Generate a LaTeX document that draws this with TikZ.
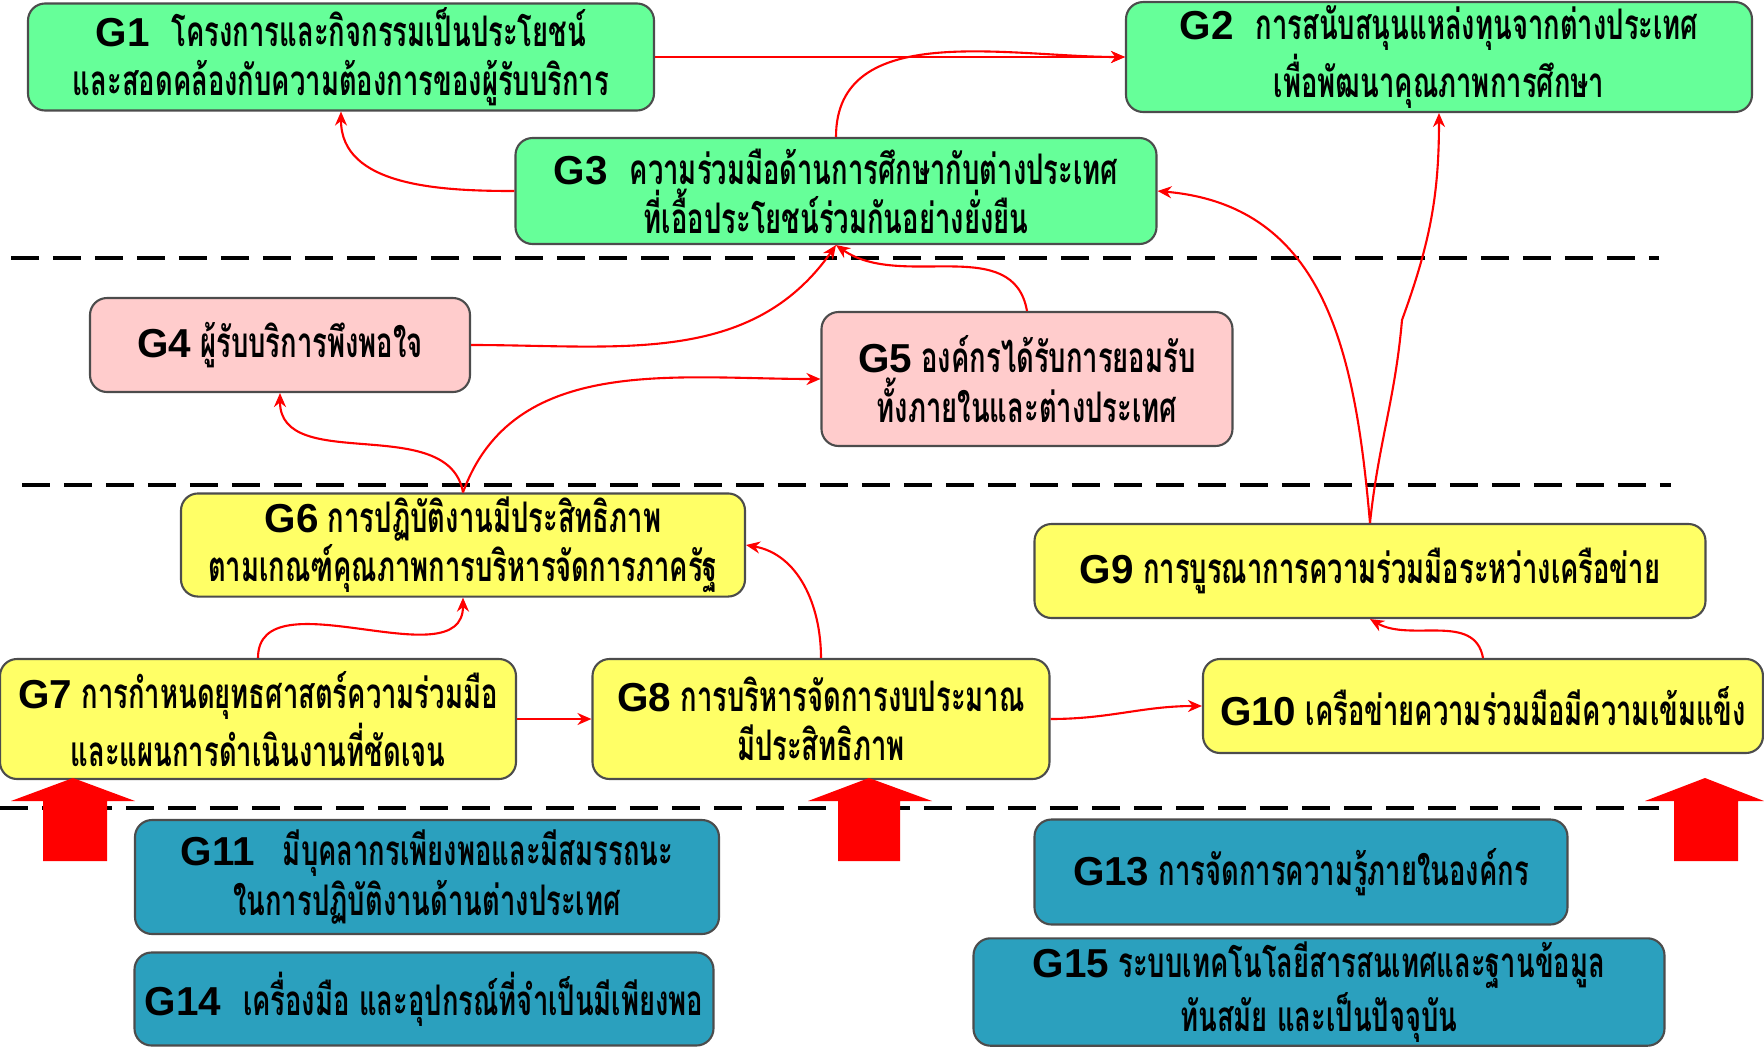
\documentclass[tikz,border=0pt]{standalone}
\usepackage{fontspec}
\usetikzlibrary{arrows.meta}
\newfontfamily\thaifont[Script=Thai,FakeStretch=0.65]{Loma}
\newfontfamily\labfont{Liberation Sans}
\newcommand\gname[1]{{\labfont\bfseries\fontsize{11.5}{12}\selectfont #1}}

\definecolor{goalgreen}{RGB}{102,255,153}
\definecolor{goalpink}{RGB}{255,204,204}
\definecolor{goalyellow}{RGB}{255,255,102}
\definecolor{goalteal}{RGB}{43,160,190}

\tikzset{
  goal/.style={draw=black!70, line width=0.6pt, rounded corners=1.7mm, align=center,
    inner sep=1pt, font=\thaifont\bfseries\fontsize{12}{14}\selectfont},
  link/.style={red, line width=0.6pt, -{Stealth[length=1.4mm,width=1.2mm]}},
  sepline/.style={black, line width=1.3pt, dash pattern=on 2.8mm off 1.4mm},
  uparrow/.style={fill=red}
}

\begin{document}
\begin{tikzpicture}[x=0.1mm, y=-0.1mm]
    \useasboundingbox (0,0) rectangle (1764,1049);

    % level separators
    \draw[sepline] (11,258) -- (1659,258);
    \draw[sepline] (22,485) -- (1671,485);
    \draw[sepline] (0,808) -- (1659,808);

    % goals
    \node[goal, fill=goalgreen, minimum width=62.6mm, minimum height=10.7mm] (g1) at (341,57)
        {\gname{G1}\hspace{2.2mm}โครงการและกิจกรรมเป็นประโยชน์\\และสอดคล้องกับความต้องการของผู้รับบริการ};
    \node[goal, fill=goalgreen, minimum width=62.6mm, minimum height=10.7mm] (g2) at (1439,57)
        {\gname{G2}\hspace{2.2mm}การสนับสนุนแหล่งทุนจากต่างประเทศ\\เพื่อพัฒนาคุณภาพการศึกษา};
    \node[goal, fill=goalgreen, minimum width=64.1mm, minimum height=10.6mm] (g3) at (836,191)
        {\gname{G3}\hspace{2.2mm}ความร่วมมือด้านการศึกษากับต่างประเทศ\\ที่เอื้อประโยชน์ร่วมกันอย่างยั่งยืน};
    \node[goal, fill=goalpink, minimum width=38mm, minimum height=9.4mm] (g4) at (280,345)
        {\gname{G4} ผู้รับบริการพึงพอใจ};
    \node[goal, fill=goalpink, minimum width=41.1mm, minimum height=13.4mm] (g5) at (1027,379)
        {\gname{G5} องค์กรได้รับการยอมรับ\\ทั้งภายในและต่างประเทศ};
    \node[goal, fill=goalyellow, minimum width=56.4mm, minimum height=9.4mm] (g6) at (463,545)
        {\gname{G6} การปฏิบัติงานมีประสิทธิภาพ\\ตามเกณฑ์คุณภาพการบริหารจัดการภาครัฐ};
    \node[goal, fill=goalyellow, minimum width=67.1mm, minimum height=9.4mm] (g9) at (1370,571)
        {\gname{G9} การบูรณาการความร่วมมือระหว่างเครือข่าย};
    \node[goal, fill=goalyellow, minimum width=51.6mm, minimum height=12mm] (g7) at (258,719)
        {\gname{G7} การกำหนดยุทธศาสตร์ความร่วมมือ\\และแผนการดำเนินงานที่ชัดเจน};
    \node[goal, fill=goalyellow, minimum width=45.7mm, minimum height=12mm] (g8) at (821,719)
        {\gname{G8} การบริหารจัดการงบประมาณ\\มีประสิทธิภาพ};
    \node[goal, fill=goalyellow, minimum width=56mm, minimum height=9.4mm] (g10) at (1483,706)
        {\gname{G10} เครือข่ายความร่วมมือมีความเข้มแข็ง};
    \node[goal, fill=goalteal, minimum width=58.4mm, minimum height=11.4mm] (g11) at (427,877)
        {\gname{G11}\hspace{2.8mm}มีบุคลากรเพียงพอและมีสมรรถนะ\\ในการปฏิบัติงานด้านต่างประเทศ};
    \node[goal, fill=goalteal, minimum width=53.3mm, minimum height=10.5mm] (g13) at (1301,872)
        {\gname{G13} การจัดการความรู้ภายในองค์กร};
    \node[goal, fill=goalteal, minimum width=57.9mm, minimum height=9.3mm] (g14) at (424,999)
        {\gname{G14}\hspace{2.2mm}เครื่องมือ และอุปกรณ์ที่จำเป็นมีเพียงพอ};
    \node[goal, fill=goalteal, minimum width=69.1mm, minimum height=10.7mm] (g15) at (1319,992)
        {\gname{G15} ระบบเทคโนโลยีสารสนเทศและฐานข้อมูล\\ทันสมัย และเป็นปัจจุบัน};

    % links
    \draw[link] (g1.east) -- (g2.west);
    \draw[link] (g3.north) to[out=90, in=180] (g2.west);
    \draw[link] (g3.west) to[out=180, in=-90] (g1.south);
    \draw[link] (g4.east) to[out=0, in=-125] (g3.south);
    \draw[link] (g5.north) to[out=100, in=-35] (g3.south);
    \draw[link] (g6.north) to[out=100, in=-90] (g4.south);
    \draw[link] (g6.north) to[out=70, in=180] (g5.west);
    \draw[link] (g7.north) to[out=90, in=-90] (g6.south);
    \draw[link] (g7.east) -- (g8.west);
    \draw[link] (g8.north) to[out=90, in=-10] (g6.east);
    \draw[link] (g8.east) to[out=0, in=180] (g10.west);
    \draw[link] (g10.north) to[out=100, in=-30] (g9.south);
    \draw[link] (g9.north) to[out=95, in=-5, looseness=1.1] (g3.east);
    \coordinate (kink) at (1402,320);
    \draw[link] (g9.north) to[out=84, in=-95] (kink) to[out=70, in=-90] (g2.south);

    % block arrows
    \fill[uparrow] (11,801) -- (73,778) -- (135,801) -- (107,801) -- (107,861) -- (43,861) -- (43,801) -- cycle;
    \fill[uparrow] (808,801) -- (869,778) -- (932,801) -- (900,801) -- (900,861) -- (838,861) -- (838,801) -- cycle;
    \fill[uparrow] (1645,801) -- (1705,778) -- (1764,801) -- (1738,801) -- (1738,861) -- (1674,861) -- (1674,801) -- cycle;
\end{tikzpicture}
\end{document}
